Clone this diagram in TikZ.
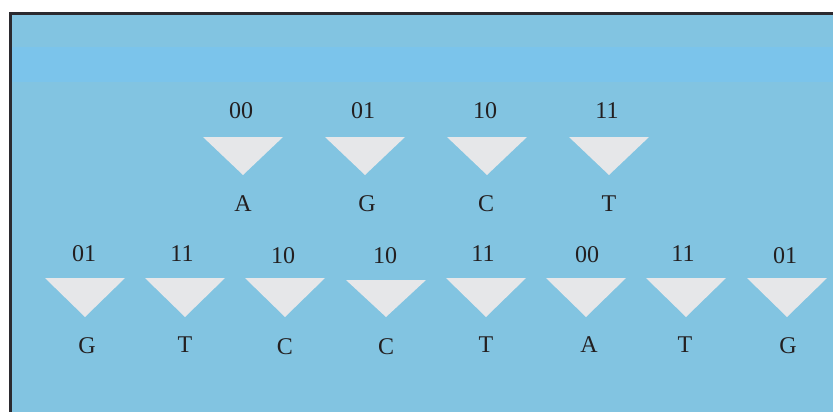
\documentclass[tikz,border=0pt]{standalone}
\usepackage{fontspec}
\setmainfont{Liberation Serif}
\definecolor{bgblue}{HTML}{82C4E1}
\definecolor{bandblue}{HTML}{7BC4EB}
\definecolor{trigrey}{HTML}{E6E7E9}
\definecolor{ink}{HTML}{231F20}
\definecolor{frame}{HTML}{2B2A2F}
\begin{document}
\begin{tikzpicture}[x=1pt,y=-1pt,
  lbl/.style={inner sep=0pt,anchor=base,text=ink,font=\fontsize{24}{24}\selectfont},
  tri/.style={fill=trigrey}]
\useasboundingbox (0,0) rectangle (833,412);
\fill[white] (0,0) rectangle (833,412);
\fill[bgblue] (10,14) rectangle (833,412);
\fill[bandblue] (11,47) rectangle (833,82);
\draw[frame,line width=3pt] (10,412) -- (10,14) -- (833,14);
% top row
\foreach \cx/\n/\nx/\l/\lx [count=\i] in {243/00/241/A/243, 365/01/363/G/367, 487/10/485/C/486, 609/11/607/T/609}{
  \fill[tri] (\cx-40,137) -- (\cx+40,137) -- (\cx,175) -- cycle;
  \node[lbl] (tn\i) at (\nx,118) {\n};
  \node[lbl] (tl\i) at (\lx,211) {\l};
}
% bottom row
\foreach \cx/\ty/\n/\nx/\ny/\l/\lx/\ly [count=\i] in {
  85/278/01/84/261/G/87/353,
  185/278/11/182/261/T/185/352,
  285/278/10/283/263/C/285/354,
  386/280/10/385/263/C/386/354,
  486/278/11/483/261/T/486/352,
  586/278/00/587/262/A/589/352,
  686/278/11/683/261/T/685/352,
  787/278/01/785/263/G/788/353}{
  \fill[tri] (\cx-40,\ty) -- (\cx+40,\ty) -- (\cx,317) -- cycle;
  \node[lbl] (bn\i) at (\nx,\ny) {\n};
  \node[lbl] (bl\i) at (\lx,\ly) {\l};
}
\end{tikzpicture}
\end{document}
